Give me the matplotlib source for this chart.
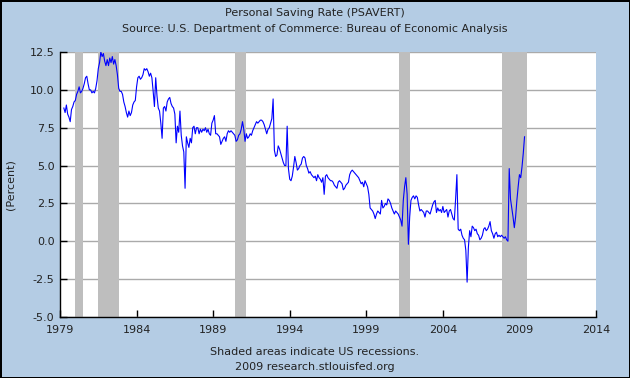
import numpy as np
import matplotlib
matplotlib.use("Agg")
import matplotlib.pyplot as plt

plt.rcParams.update({"font.family": "DejaVu Sans", "font.size": 8, "axes.unicode_minus": False})

BG = "#b4cce4"
REC = "#bebebe"
LINE = "#0000ff"

# monthly personal saving rate (%), first value = Apr 1979, last = May 2009
first_month = (1979, 4)
rate_1979 = [8.8, 8.5, 9.0, 8.4, 8.2, 7.9, 8.7, 8.9, 9.2]
rate_1980 = [9.3, 9.7, 9.9, 10.2, 9.8, 9.9, 10.1, 10.4, 10.8, 10.9, 10.4, 10.0]
rate_1981 = [10.0, 9.8, 9.9, 9.8, 10.1, 10.6, 11.4, 11.8, 12.5, 12.2, 12.4, 11.9]
rate_1982 = [11.6, 12.0, 11.6, 12.1, 11.8, 12.2, 11.7, 12.0, 11.6, 11.0, 10.1, 9.9]
rate_1983 = [9.9, 9.7, 9.2, 8.9, 8.5, 8.2, 8.6, 8.3, 8.5, 9.0, 9.2, 9.3]
rate_1984 = [10.2, 10.8, 10.9, 10.7, 10.8, 11.0, 11.4, 11.3, 11.4, 11.2, 10.9, 11.1]
rate_1985 = [10.8, 9.9, 8.9, 10.8, 9.6, 8.8, 8.6, 7.8, 6.8, 8.8, 8.9, 8.6]
rate_1986 = [9.2, 9.4, 9.5, 9.1, 8.9, 8.8, 8.4, 6.5, 7.6, 7.2, 8.6, 7.0]
rate_1987 = [6.3, 5.9, 3.5, 6.9, 6.5, 6.2, 6.8, 6.5, 7.5, 7.6, 7.1, 7.5]
rate_1988 = [7.5, 7.1, 7.4, 7.2, 7.4, 7.3, 7.5, 7.2, 7.4, 7.1, 7.0, 7.8]
rate_1989 = [8.0, 8.3, 7.1, 7.1, 7.0, 6.9, 6.4, 6.6, 6.8, 6.9, 6.6, 7.1]
rate_1990 = [7.3, 7.2, 7.3, 7.2, 7.1, 7.0, 6.6, 6.7, 7.0, 7.1, 7.4, 7.9]
rate_1991 = [7.4, 6.6, 7.1, 6.8, 6.9, 7.1, 7.0, 7.3, 7.5, 7.7, 7.9, 7.8]
rate_1992 = [7.9, 8.0, 8.0, 7.9, 7.7, 7.4, 7.1, 7.4, 7.5, 7.8, 8.1, 9.4]
rate_1993 = [6.0, 5.6, 5.7, 6.3, 6.1, 5.8, 5.5, 5.2, 5.0, 5.0, 7.6, 4.8]
rate_1994 = [4.1, 4.0, 4.3, 4.9, 5.6, 5.2, 4.7, 4.8, 5.0, 5.1, 5.5, 5.6]
rate_1995 = [5.5, 5.0, 4.8, 4.5, 4.6, 4.4, 4.3, 4.2, 4.3, 4.0, 4.4, 4.2]
rate_1996 = [4.1, 3.9, 4.2, 3.1, 4.3, 4.4, 4.2, 4.1, 4.0, 4.0, 3.9, 3.7]
rate_1997 = [3.6, 3.5, 3.9, 4.0, 3.9, 3.8, 3.4, 3.5, 3.7, 3.8, 3.9, 4.4]
rate_1998 = [4.6, 4.7, 4.6, 4.5, 4.4, 4.3, 4.2, 4.0, 3.8, 3.9, 3.6, 4.0]
rate_1999 = [3.8, 3.6, 3.1, 2.2, 2.1, 2.0, 1.8, 1.5, 1.8, 2.0, 1.9, 1.8]
rate_2000 = [2.7, 2.2, 2.3, 2.5, 2.4, 2.8, 2.7, 2.5, 2.2, 2.0, 1.8, 2.0]
rate_2001 = [1.9, 1.8, 1.6, 1.4, 1.0, 2.7, 3.6, 4.2, 3.1, -0.2, 1.6, 2.7]
rate_2002 = [2.9, 3.0, 2.8, 3.0, 2.9, 2.4, 2.0, 2.1, 2.0, 1.9, 1.6, 2.0]
rate_2003 = [2.0, 1.9, 1.8, 2.1, 2.4, 2.6, 2.7, 1.9, 2.2, 2.0, 2.1, 1.9]
rate_2004 = [2.3, 1.9, 2.0, 2.1, 1.6, 2.0, 2.1, 1.8, 1.5, 1.4, 2.8, 4.4]
rate_2005 = [0.8, 0.7, 0.8, 0.4, 0.2, 0.1, -0.6, -2.7, -0.4, 0.7, 0.3, 1.0]
rate_2006 = [0.9, 0.7, 0.8, 0.5, 0.4, 0.1, 0.2, 0.4, 0.8, 0.9, 0.7, 0.8]
rate_2007 = [1.0, 1.3, 0.7, 0.5, 0.2, 0.5, 0.6, 0.3, 0.4, 0.3, 0.4, 0.3]
rate_2008 = [0.2, 0.3, 0.1, 0.0, 4.8, 2.8, 2.2, 1.6, 0.9, 1.6, 2.7, 3.6]
rate_2009 = [4.4, 4.2, 4.9, 5.8, 6.9]

# recession bands (decimal years)
rec_start = [1979.95, 1981.45, 1990.45, 2001.12, 2007.87]
rec_end = [1980.5, 1982.87, 1991.17, 2001.87, 2009.5]

xticks = [1979, 1984, 1989, 1994, 1999, 2004, 2009, 2014]
yticks = [-5.0, -2.5, 0.0, 2.5, 5.0, 7.5, 10.0, 12.5]

rate = np.concatenate([rate_1979, rate_1980, rate_1981, rate_1982, rate_1983, rate_1984,
                       rate_1985, rate_1986, rate_1987, rate_1988, rate_1989, rate_1990,
                       rate_1991, rate_1992, rate_1993, rate_1994, rate_1995, rate_1996,
                       rate_1997, rate_1998, rate_1999, rate_2000, rate_2001, rate_2002,
                       rate_2003, rate_2004, rate_2005, rate_2006, rate_2007, rate_2008,
                       rate_2009])
t = first_month[0] + (first_month[1] - 1) / 12 + np.arange(len(rate)) / 12

fig = plt.figure(figsize=(6.3, 3.78), dpi=100, facecolor=BG, edgecolor="black", linewidth=2)
ax = fig.add_axes([60 / 630, 1 - 317 / 378, 536 / 630, 265 / 378])
ax.set_facecolor("white")
ax.set_axisbelow(True)
ax.yaxis.grid(True, color="#aaaaaa", lw=1)

for s, e in zip(rec_start, rec_end):
    ax.axvspan(s, e, color=REC, lw=0, zorder=1)
ax.plot(t, rate, color=LINE, lw=0.8, zorder=3)

ax.set_xlim(xticks[0], xticks[-1])
ax.set_ylim(yticks[0], yticks[-1])
ax.set_xticks(xticks)
ax.set_xticklabels([str(x) for x in xticks])
ax.set_yticks(yticks)
ax.set_yticklabels([f"{y:.1f}" for y in yticks])
ax.tick_params(direction="in", length=5, width=1, colors="black", labelcolor="#222222")
ax.tick_params(axis="x", pad=6)
ax.tick_params(axis="y", pad=4)
ax.spines[["top", "right"]].set_visible(False)
for sp in ("left", "bottom"):
    ax.spines[sp].set_color("black")
    ax.spines[sp].set_linewidth(1)
ax.set_ylabel("(Percent)", color="#222222", labelpad=10)

fig.text(0.5, 1 - 13 / 378, "Personal Saving Rate (PSAVERT)", ha="center", va="center", color="#222222")
fig.text(0.5, 1 - 29 / 378, "Source: U.S. Department of Commerce: Bureau of Economic Analysis",
         ha="center", va="center", color="#222222")
fig.text(0.5, 1 - 352 / 378, "Shaded areas indicate US recessions.", ha="center", va="center", color="#222222")
fig.text(0.5, 1 - 367 / 378, "2009 research.stlouisfed.org", ha="center", va="center", color="#222222")

fig.savefig("out.png", dpi=100, facecolor=fig.get_facecolor(), edgecolor=fig.get_edgecolor())
